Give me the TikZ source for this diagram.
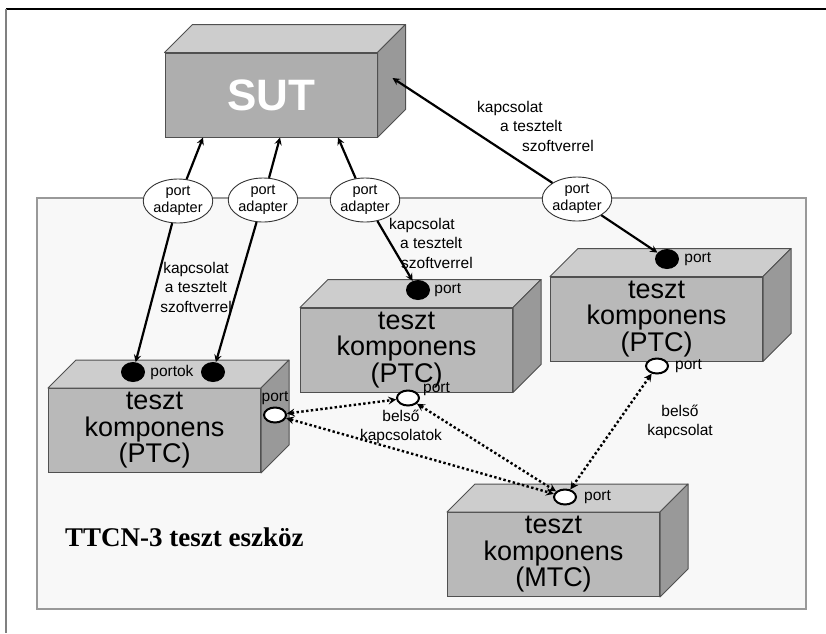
\documentclass[tikz,border=0pt]{standalone}
\usepackage{fontspec}
\setmainfont{Liberation Sans}
\newfontfamily\captionserif{Liberation Serif}
\usetikzlibrary{positioning,shapes.geometric}

\definecolor{frontgray}{HTML}{B9B9B9}
\definecolor{topgray}{HTML}{CDCDCD}
\definecolor{sidegray}{HTML}{999999}
\definecolor{edgegray}{HTML}{505050}
\definecolor{panelgray}{HTML}{F8F8F8}

% top and right faces of a box, drawn on its front node
\newcommand{\boxdepth}[1]{%
  \filldraw[face, fill=topgray] (#1.north west) -- ++(28pt,28pt) -- ([shift={(28pt,28pt)}]#1.north east) -- (#1.north east) -- cycle;
  \filldraw[face, fill=sidegray] (#1.north east) -- ([shift={(28pt,28pt)}]#1.north east) -- ([shift={(28pt,28pt)}]#1.south east) -- (#1.south east) -- cycle;
}

\begin{document}
\begin{tikzpicture}[x=1pt, y=-1pt,
    face/.style={draw=edgegray, line width=1pt, line join=round},
    compo/.style={rectangle, draw=edgegray, fill=frontgray, line width=1pt, minimum width=212pt, minimum height=84pt, inner sep=0pt, align=center, font=\fontsize{27}{26.5}\selectfont},
    adapter/.style={ellipse, draw=black!80, fill=white, line width=0.9pt, minimum width=64pt, minimum height=44pt, inner sep=0pt, align=center, font=\fontsize{14.5}{17}\selectfont},
    bport/.style={ellipse, fill=black, minimum width=24pt, minimum height=20pt, inner sep=0pt},
    wport/.style={ellipse, draw=black, line width=2pt, fill=white, minimum width=22pt, minimum height=15pt, inner sep=0pt},
    lbl/.style={font=\fontsize{15.5}{19.5}\selectfont, inner sep=0pt},
    conn/.style={-stealth, line width=2.2pt},
    innerconn/.style={stealth-stealth, line width=2.4pt, dash pattern=on 2.4pt off 2.4pt}
  ]
  \useasboundingbox (0,0) rectangle (826,633);
  \fill[white] (0,0) rectangle (826,633);
  \draw[black, line width=1.3pt] (6,9) -- (826,9);
  \draw[gray, line width=2pt] (6,9) -- (6,633);
  \draw[draw=gray!80, fill=panelgray, line width=1.6pt] (37,198) rectangle (806,609);

  % boxes
  \node[compo, fill=frontgray!94!black, text=white, font=\fontsize{44}{44}\selectfont\bfseries] (sut) at (271,95) {SUT};
  \boxdepth{sut}
  \node[compo] (ptcleft) at (154.5,430.5) {teszt\\komponens\\(PTC)};
  \boxdepth{ptcleft}
  \node[compo] (ptcmid) at (406.5,350) {teszt\\komponens\\(PTC)};
  \boxdepth{ptcmid}
  \node[compo] (ptcright) at (656.5,319) {teszt\\komponens\\(PTC)};
  \boxdepth{ptcright}
  \node[compo] (mtc) at (553.5,554.5) {teszt\\komponens\\(MTC)};
  \boxdepth{mtc}

  % port adapters
  \node[adapter] (pa1) at (178,201) {port\\adapter};
  \node[adapter] (pa2) at (263,200) {port\\adapter};
  \node[adapter] (pa3) at (365,200) {port\\adapter};
  \node[adapter] (pa4) at (577,199) {port\\adapter};

  % ports
  \node[bport] (bp1) at (133,372) {};
  \node[bport] (bp2) at (213,372) {};
  \node[bport] (bp3) at (418,290) {};
  \node[bport] (bp4) at (667,259) {};
  \node[wport] (wp1) at (275,415) {};
  \node[wport] (wp2) at (408,398) {};
  \node[wport] (wp3) at (657,366) {};
  \node[wport] (wp4) at (565,497) {};
  \node[lbl, right=5pt of bp1] (portlabel1) {portok};
  \node[lbl, right=4pt of bp3] (portlabel3) {port};
  \node[lbl, right=5pt of bp4] (portlabel4) {port};
  \node[lbl, above=2pt of wp1] (wportlabel1) {port};
  \node[lbl, right=3pt of wp2, yshift=9pt] (wportlabel2) {port};
  \node[lbl, right=6pt of wp3] (wportlabel3) {port};
  \node[lbl, right=7pt of wp4] (wportlabel4) {port};

  % connections to the SUT
  \draw[conn] (pa1) -- ([xshift=-68pt]sut.south);
  \draw[conn] (pa2) -- ([xshift=9pt]sut.south);
  \draw[conn] (pa3) -- ([xshift=67pt]sut.south);
  \draw[conn] (pa4) -- ([xshift=15pt,yshift=17pt]sut.east);
  \draw[conn] (pa1) -- (bp1);
  \draw[conn] (pa2) -- (bp2);
  \draw[conn] (pa3) -- (bp3);
  \draw[conn] (pa4) -- (bp4);

  % internal connections
  \draw[innerconn] (wp1) -- (wp2);
  \draw[innerconn] (wp1) -- (wp4);
  \draw[innerconn] (wp2) -- (wp4);
  \draw[innerconn] (wp3) -- (wp4);

  % labels
  \node[lbl, align=left, anchor=west] (conlabelsut) at (477,126) {kapcsolat\\\hspace*{23pt}a tesztelt\\\hspace*{45pt}szoftverrel};
  \node[lbl, align=left, anchor=west] (conlabelmid) at (389,243) {kapcsolat\\\hspace*{11pt}a tesztelt\\\hspace*{12pt}szoftverrel};
  \node[lbl, align=center] (conlabelleft) at (196,287) {kapcsolat\\a tesztelt\\szoftverrel};
  \node[lbl, align=center] (innerleft) at (401,427) {belső\\kapcsolatok};
  \node[lbl, align=center] (innerright) at (680,422) {belső\\kapcsolat};
  \node[font=\captionserif\bfseries\fontsize{27}{27}\selectfont, anchor=west, inner sep=0pt] (toolname) at (65,537) {TTCN-3 teszt eszköz};
\end{tikzpicture}
\end{document}
